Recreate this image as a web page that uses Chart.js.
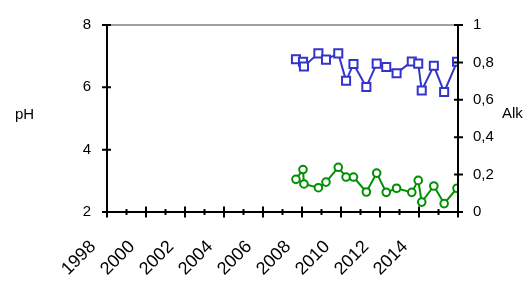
<!DOCTYPE html>
<html>
<head>
<meta charset="utf-8">
<script src="https://cdn.jsdelivr.net/npm/chart.js@4"></script>
<style>
  html, body { margin: 0; padding: 0; background: #fff; }
  #wrap { width: 532px; height: 284px; }
</style>
</head>
<body>
<div id="wrap"><canvas id="chart" width="532" height="284"></canvas></div>
<script>
// sample dates (decimal years) and values
const years = [2007.69, 2008.05, 2008.10, 2008.84, 2009.23, 2009.86, 2010.26, 2010.64, 2011.30,
               2011.83, 2012.32, 2012.85, 2013.63, 2013.96, 2014.14, 2014.76, 2015.29, 2015.95];
const ph = [6.90, 6.82, 6.67, 7.09, 6.89, 7.09, 6.21, 6.75, 6.01,
            6.76, 6.65, 6.45, 6.83, 6.76, 5.90, 6.69, 5.85, 6.82];
const alk = [0.175, 0.227, 0.15, 0.13, 0.16, 0.239, 0.187, 0.187, 0.107,
             0.208, 0.105, 0.127, 0.105, 0.169, 0.053, 0.139, 0.045, 0.127];
const xRange = [1998, 2016];
const yearLabels = [1998, 2000, 2002, 2004, 2006, 2008, 2010, 2012, 2014];
const phTicks = [2, 4, 6, 8];
const alkTicks = [0, 0.2, 0.4, 0.6, 0.8, 1];

const FONT = '"Liberation Sans", Arial, sans-serif';

// axis lines, crossing tick marks, slanted year labels and the horizontal axis titles
const axesPlugin = {
    id: 'axes',
    afterDatasetsDraw(chart) {
        const ctx = chart.ctx;
        const a = chart.chartArea;
        const x = chart.scales.x, y = chart.scales.y, y2 = chart.scales.y2;
        ctx.save();
        // grey top border
        ctx.strokeStyle = '#a0a0a0';
        ctx.lineWidth = 2;
        ctx.beginPath();
        ctx.moveTo(a.left, a.top);
        ctx.lineTo(a.right, a.top);
        ctx.stroke();

        ctx.strokeStyle = '#000';
        ctx.lineWidth = 2;
        ctx.beginPath();
        ctx.moveTo(a.left, a.top);
        ctx.lineTo(a.left, a.bottom);
        ctx.lineTo(a.right, a.bottom);
        ctx.moveTo(a.right, a.top);
        ctx.lineTo(a.right, a.bottom);
        for (let yr = xRange[0]; yr <= xRange[1]; yr++) {
            const px = x.getPixelForValue(yr);
            const h = yr % 2 === 0 ? 5.5 : 3;
            ctx.moveTo(px, a.bottom - h);
            ctx.lineTo(px, a.bottom + h);
        }
        phTicks.forEach(v => {
            const py = y.getPixelForValue(v);
            ctx.moveTo(a.left - 5, py);
            ctx.lineTo(a.left + 4, py);
        });
        alkTicks.forEach(v => {
            const py = y2.getPixelForValue(v);
            ctx.moveTo(a.right - 4, py);
            ctx.lineTo(a.right + 5, py);
        });
        ctx.stroke();

        ctx.fillStyle = '#000';
        // year labels, slanted 45 degrees
        ctx.font = '18px ' + FONT;
        ctx.textAlign = 'right';
        ctx.textBaseline = 'middle';
        yearLabels.forEach(yr => {
            const px = x.getPixelForValue(yr);
            ctx.save();
            ctx.translate(px - 14, a.bottom + 32);
            ctx.rotate(-Math.PI / 4);
            ctx.fillText(String(yr), 0, 0);
            ctx.restore();
        });

        ctx.font = '15px ' + FONT;
        ctx.textAlign = 'left';
        ctx.fillText('pH', 15, 115);
        ctx.fillText('Alk', 502, 114);
        ctx.restore();
    }
};

const ctx = document.getElementById('chart').getContext('2d');
new Chart(ctx, {
    type: 'line',
    data: {
        datasets: [{
            label: 'pH',
            data: years.map((t, i) => ({x: t, y: ph[i]})),
            yAxisID: 'y',
            borderColor: '#3434cc',
            backgroundColor: '#ffffff',
            borderWidth: 2,
            pointStyle: 'rect',
            pointRadius: 5.7,
            pointBorderWidth: 2,
            tension: 0
        }, {
            label: 'Alk',
            data: years.map((t, i) => ({x: t, y: alk[i]})),
            yAxisID: 'y2',
            borderColor: '#008f00',
            backgroundColor: '#ffffff',
            borderWidth: 2,
            pointStyle: 'circle',
            pointRadius: 3.8,
            pointBorderWidth: 2,
            tension: 0
        }]
    },
    options: {
        responsive: false,
        animation: false,
        layout: { padding: { top: 18, left: 0, right: 0, bottom: 0 } },
        plugins: { legend: { display: false }, tooltip: { enabled: false } },
        scales: {
            x: {
                type: 'linear',
                min: xRange[0],
                max: xRange[1],
                grid: { display: false, drawTicks: false },
                border: { display: false },
                afterFit: s => { s.height = 72; },
                ticks: { display: false, stepSize: 1 }
            },
            y: {
                position: 'left',
                min: 2,
                max: 8,
                grid: { display: false, drawTicks: false },
                border: { display: false },
                afterFit: s => { s.width = 107; },
                ticks: {
                    stepSize: 2,
                    padding: 16,
                    color: '#000',
                    font: { family: FONT, size: 15 }
                }
            },
            y2: {
                position: 'right',
                min: 0,
                max: 1,
                grid: { display: false, drawTicks: false },
                border: { display: false },
                afterFit: s => { s.width = 74; },
                ticks: {
                    stepSize: 0.2,
                    padding: 15,
                    color: '#000',
                    font: { family: FONT, size: 15 },
                    callback: v => String(Math.round(v * 10) / 10).replace('.', ',')
                }
            }
        }
    },
    plugins: [axesPlugin]
});
</script>
</body>
</html>
